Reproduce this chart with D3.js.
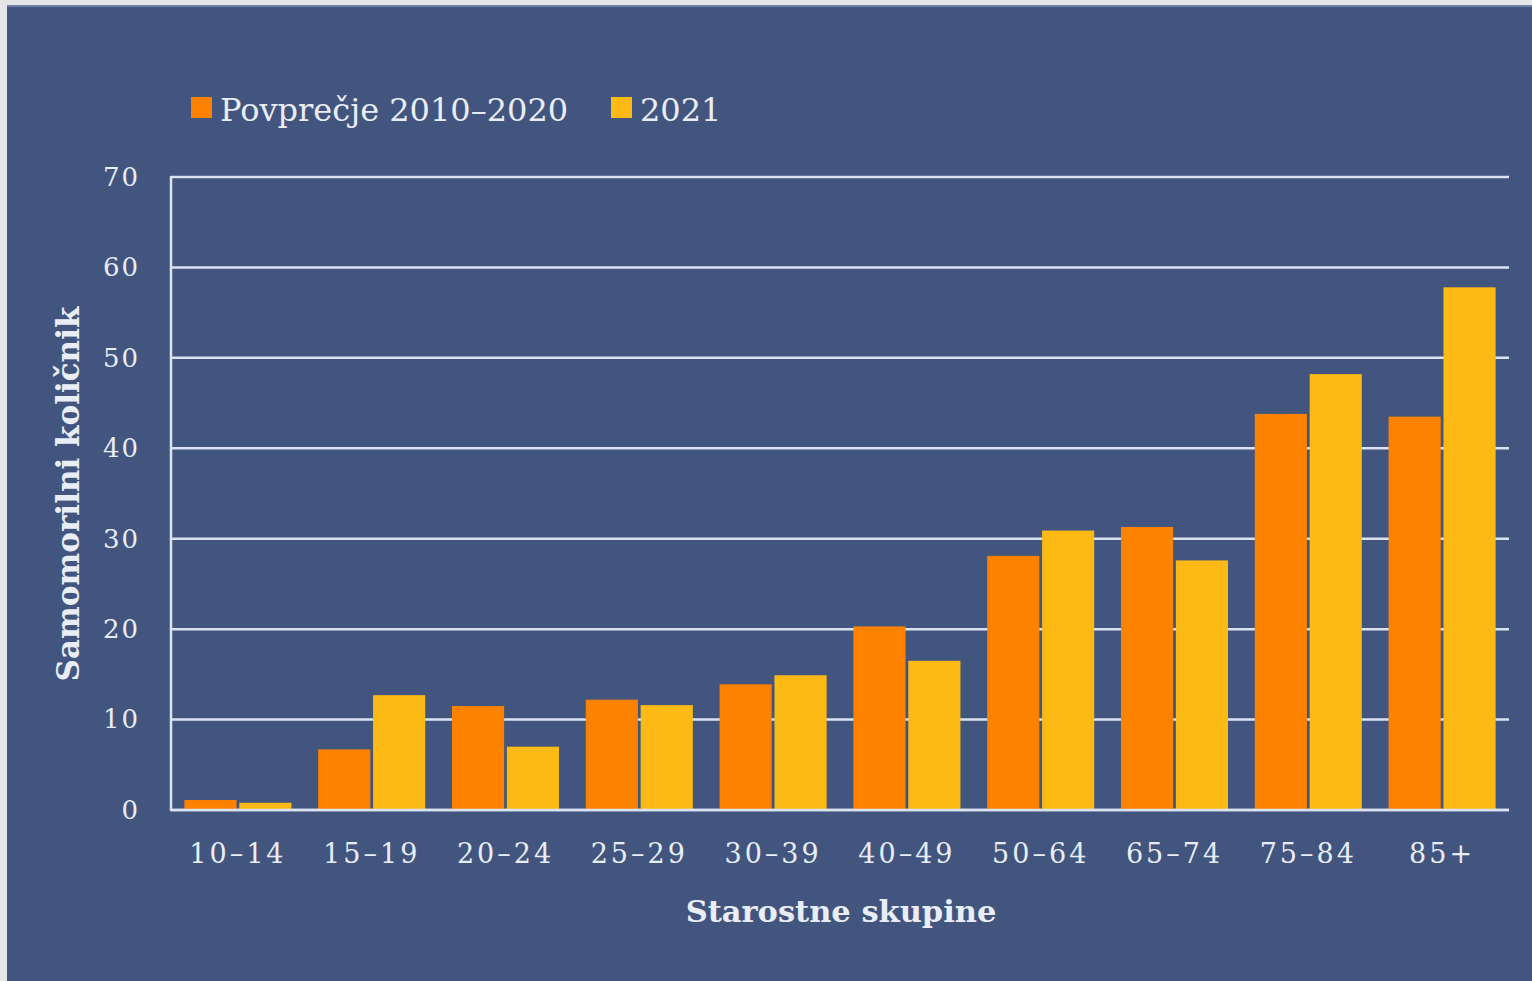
<!DOCTYPE html>
<html>
<head>
<meta charset="utf-8">
<script src="https://cdn.jsdelivr.net/npm/d3@7"></script>
<style>
  html, body { margin: 0; padding: 0; background: #e6e6e6; }
  svg { display: block; }
</style>
</head>
<body>
<svg id="chart" width="1532" height="981"></svg>
<script>
// Age groups and suicide rates per 100 000
const categories = ["10–14", "15–19", "20–24", "25–29", "30–39", "40–49", "50–64", "65–74", "75–84", "85+"];
const seriesNames = ["Povprečje 2010–2020", "2021"];
const avg2010_2020 = [1.1, 6.7, 11.5, 12.2, 13.9, 20.3, 28.1, 31.3, 43.8, 43.5];
const y2021 = [0.8, 12.7, 7.0, 11.6, 14.9, 16.5, 30.9, 27.6, 48.2, 57.8];
const yTicks = [0, 10, 20, 30, 40, 50, 60, 70];
const colors = ["#fd8200", "#fdb914"];

const svg = d3.select("#chart");
const W = 1532, H = 981;
const textColor = "#e9edf6";
const gridColor = "#dbe2f1";
const serif = "'DejaVu Serif', 'Liberation Serif', serif";

// panel background
svg.append("rect").attr("x", 7).attr("y", 5).attr("width", W - 7).attr("height", H - 5)
  .attr("fill", "#42557f");
svg.append("rect").attr("x", 7).attr("y", 5).attr("width", W - 7).attr("height", 2)
  .attr("fill", "#6f82aa");

const plot = { left: 171, right: 1509, top: 177, bottom: 810 };

const y = d3.scaleLinear().domain([0, 70]).range([plot.bottom, plot.top]);
const x0 = d3.scaleBand().domain(categories).range([plot.left, plot.right])
  .paddingInner(0.2).paddingOuter(0.1);
const x1 = d3.scaleBand().domain([0, 1]).range([0, x0.bandwidth()]).paddingInner(0.05);

// horizontal gridlines
svg.append("g").selectAll("line").data(yTicks).join("line")
  .attr("x1", plot.left).attr("x2", plot.right)
  .attr("y1", d => y(d)).attr("y2", d => y(d))
  .attr("stroke", gridColor).attr("stroke-width", 2.5);

// left axis line
svg.append("line").attr("x1", plot.left).attr("x2", plot.left)
  .attr("y1", plot.top - 1).attr("y2", plot.bottom + 1)
  .attr("stroke", gridColor).attr("stroke-width", 2.5);

// y tick labels via d3 axis
const yAxis = svg.append("g").attr("transform", `translate(${plot.left},0)`)
  .call(d3.axisLeft(y).tickValues(yTicks).tickSize(0).tickPadding(31));
yAxis.select(".domain").remove();
yAxis.selectAll("text").attr("fill", textColor).attr("font-family", serif)
  .attr("font-size", 26).attr("letter-spacing", 2);

// bars
const rows = categories.map((c, i) => ({ cat: c, vals: [avg2010_2020[i], y2021[i]] }));
const groups = svg.append("g").selectAll("g").data(rows).join("g")
  .attr("transform", d => `translate(${x0(d.cat)},0)`);
groups.selectAll("rect").data(d => d.vals.map((v, k) => ({ v, k }))).join("rect")
  .attr("x", d => x1(d.k))
  .attr("width", x1.bandwidth())
  .attr("y", d => y(d.v))
  .attr("height", d => y(0) - y(d.v))
  .attr("fill", d => colors[d.k]);

// baseline drawn over bars
svg.append("line").attr("x1", plot.left).attr("x2", plot.right)
  .attr("y1", y(0)).attr("y2", y(0))
  .attr("stroke", gridColor).attr("stroke-width", 2.5);

// x tick labels via d3 axis
const xAxis = svg.append("g").attr("transform", `translate(0,${plot.bottom})`)
  .call(d3.axisBottom(x0).tickSize(0).tickPadding(34));
xAxis.select(".domain").remove();
xAxis.selectAll("text").attr("fill", textColor).attr("font-family", serif)
  .attr("font-size", 27).attr("letter-spacing", 3);

// axis titles
svg.append("text").attr("x", 841).attr("y", 922).attr("text-anchor", "middle")
  .attr("fill", textColor).attr("font-family", serif).attr("font-weight", "bold")
  .attr("font-size", 30.5).text("Starostne skupine");
svg.append("text")
  .attr("transform", "translate(79,494) rotate(-90)")
  .attr("text-anchor", "middle").attr("fill", textColor).attr("font-family", serif)
  .attr("font-weight", "bold").attr("font-size", 31).text("Samomorilni količnik");

// legend
const legendX = [191, 611];
const legend = svg.append("g").selectAll("g").data(seriesNames).join("g")
  .attr("transform", (d, i) => `translate(${legendX[i]},97)`);
legend.append("rect").attr("width", 21).attr("height", 21).attr("fill", (d, i) => colors[i]);
legend.append("text").attr("x", 29).attr("y", 24).attr("fill", textColor)
  .attr("font-family", serif).attr("font-size", 32).text(d => d);
</script>
</body>
</html>
